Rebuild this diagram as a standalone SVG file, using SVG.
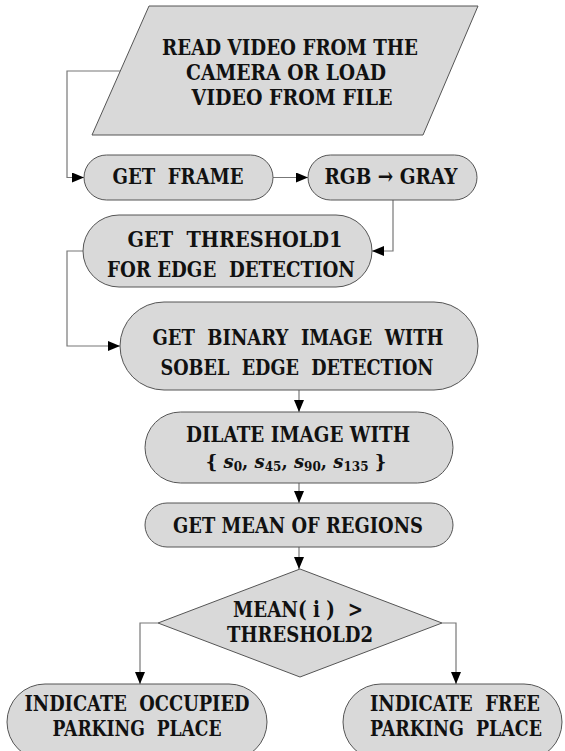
<svg xmlns="http://www.w3.org/2000/svg" width="565" height="751" viewBox="0 0 565 751">
<style>
.box{fill:#d9d9d9;stroke:#555;stroke-width:1}
.t{font-family:"DejaVu Serif","Liberation Serif",serif;font-weight:bold;font-size:23px;fill:#111;text-anchor:middle}
.c{fill:none;stroke:#777;stroke-width:1.2}
</style>
<defs>
<marker id="ah" markerUnits="userSpaceOnUse" markerWidth="12" markerHeight="10" refX="12" refY="5" orient="auto">
<path d="M0,0 L12,5 L0,10 z" fill="#000"/>
</marker>
</defs>
<rect width="565" height="751" fill="#fff"/>
<g id="connectors">
<path class="c" d="M120,71 H67 V177.5 H84" marker-end="url(#ah)"/>
<path class="c" d="M273,177.5 H308" marker-end="url(#ah)"/>
<path class="c" d="M393,200 V251 H372" marker-end="url(#ah)"/>
<path class="c" d="M83,251 H67 V346 H120" marker-end="url(#ah)"/>
<path class="c" d="M299,390 V412" marker-end="url(#ah)"/>
<path class="c" d="M299,483 V503" marker-end="url(#ah)"/>
<path class="c" d="M299,547 V569" marker-end="url(#ah)"/>
<path class="c" d="M158,623 H140 V684" marker-end="url(#ah)"/>
<path class="c" d="M442,623 H456 V684" marker-end="url(#ah)"/>
</g>
<g id="read">
<polygon class="box" points="149,6 478,6 423,135 92,135"/>
<text class="t" x="290" y="55" textLength="256" lengthAdjust="spacingAndGlyphs">READ VIDEO FROM THE</text>
<text class="t" x="286" y="80" textLength="200" lengthAdjust="spacingAndGlyphs">CAMERA OR LOAD</text>
<text class="t" x="292" y="105" textLength="201" lengthAdjust="spacingAndGlyphs">VIDEO FROM FILE</text>
</g>
<g id="frame">
<rect class="box" x="84" y="155" width="189" height="45" rx="22.5"/>
<text class="t" x="178" y="184" textLength="131" lengthAdjust="spacingAndGlyphs" xml:space="preserve">GET  FRAME</text>
</g>
<g id="gray">
<rect class="box" x="308" y="155" width="169" height="45" rx="22.5"/>
<text class="t" x="391" y="184" textLength="133" lengthAdjust="spacingAndGlyphs">RGB → GRAY</text>
</g>
<g id="threshold1">
<rect class="box" x="83" y="215" width="289" height="72" rx="36"/>
<text class="t" x="235" y="247" textLength="215" lengthAdjust="spacingAndGlyphs" xml:space="preserve">GET  THRESHOLD1</text>
<text class="t" x="231" y="277" textLength="248" lengthAdjust="spacingAndGlyphs" xml:space="preserve">FOR EDGE  DETECTION</text>
</g>
<g id="sobel">
<rect class="box" x="120" y="302" width="358" height="88" rx="44"/>
<text class="t" x="298" y="345" textLength="291" lengthAdjust="spacingAndGlyphs" xml:space="preserve">GET  BINARY  IMAGE  WITH</text>
<text class="t" x="297" y="375" textLength="273" lengthAdjust="spacingAndGlyphs" xml:space="preserve">SOBEL  EDGE  DETECTION</text>
</g>
<g id="dilate">
<rect class="box" x="145" y="412" width="308" height="71" rx="35.5"/>
<text class="t" x="298" y="442" textLength="224" lengthAdjust="spacingAndGlyphs">DILATE IMAGE WITH</text>
<text class="t" x="296" y="468" style="font-size:18px" xml:space="preserve">{ <tspan font-style="italic">s</tspan><tspan font-size="12" dy="3">0</tspan><tspan dy="-3">, </tspan><tspan font-style="italic">s</tspan><tspan font-size="12" dy="3">45</tspan><tspan dy="-3">, </tspan><tspan font-style="italic">s</tspan><tspan font-size="12" dy="3">90</tspan><tspan dy="-3">, </tspan><tspan font-style="italic">s</tspan><tspan font-size="12" dy="3">135</tspan><tspan dy="-3"> }</tspan></text>
</g>
<g id="mean">
<rect class="box" x="145" y="503" width="308" height="44" rx="22"/>
<text class="t" x="298" y="533" textLength="250" lengthAdjust="spacingAndGlyphs">GET MEAN OF REGIONS</text>
</g>
<g id="decision">
<polygon class="box" points="300,569 442,623 300,677 158,623"/>
<text class="t" x="298" y="617" textLength="130" lengthAdjust="spacingAndGlyphs" xml:space="preserve">MEAN( i )  &gt;</text>
<text class="t" x="300" y="642" textLength="146" lengthAdjust="spacingAndGlyphs">THRESHOLD2</text>
</g>
<g id="occupied">
<rect class="box" x="7" y="684" width="260" height="76" rx="38"/>
<text class="t" x="137" y="711" textLength="225" lengthAdjust="spacingAndGlyphs" xml:space="preserve">INDICATE  OCCUPIED</text>
<text class="t" x="137" y="736" textLength="169" lengthAdjust="spacingAndGlyphs" xml:space="preserve">PARKING  PLACE</text>
</g>
<g id="free">
<rect class="box" x="343" y="684" width="219" height="76" rx="38"/>
<text class="t" x="455" y="711" textLength="170" lengthAdjust="spacingAndGlyphs" xml:space="preserve">INDICATE  FREE</text>
<text class="t" x="456" y="736" textLength="172" lengthAdjust="spacingAndGlyphs" xml:space="preserve">PARKING  PLACE</text>
</g>
</svg>
